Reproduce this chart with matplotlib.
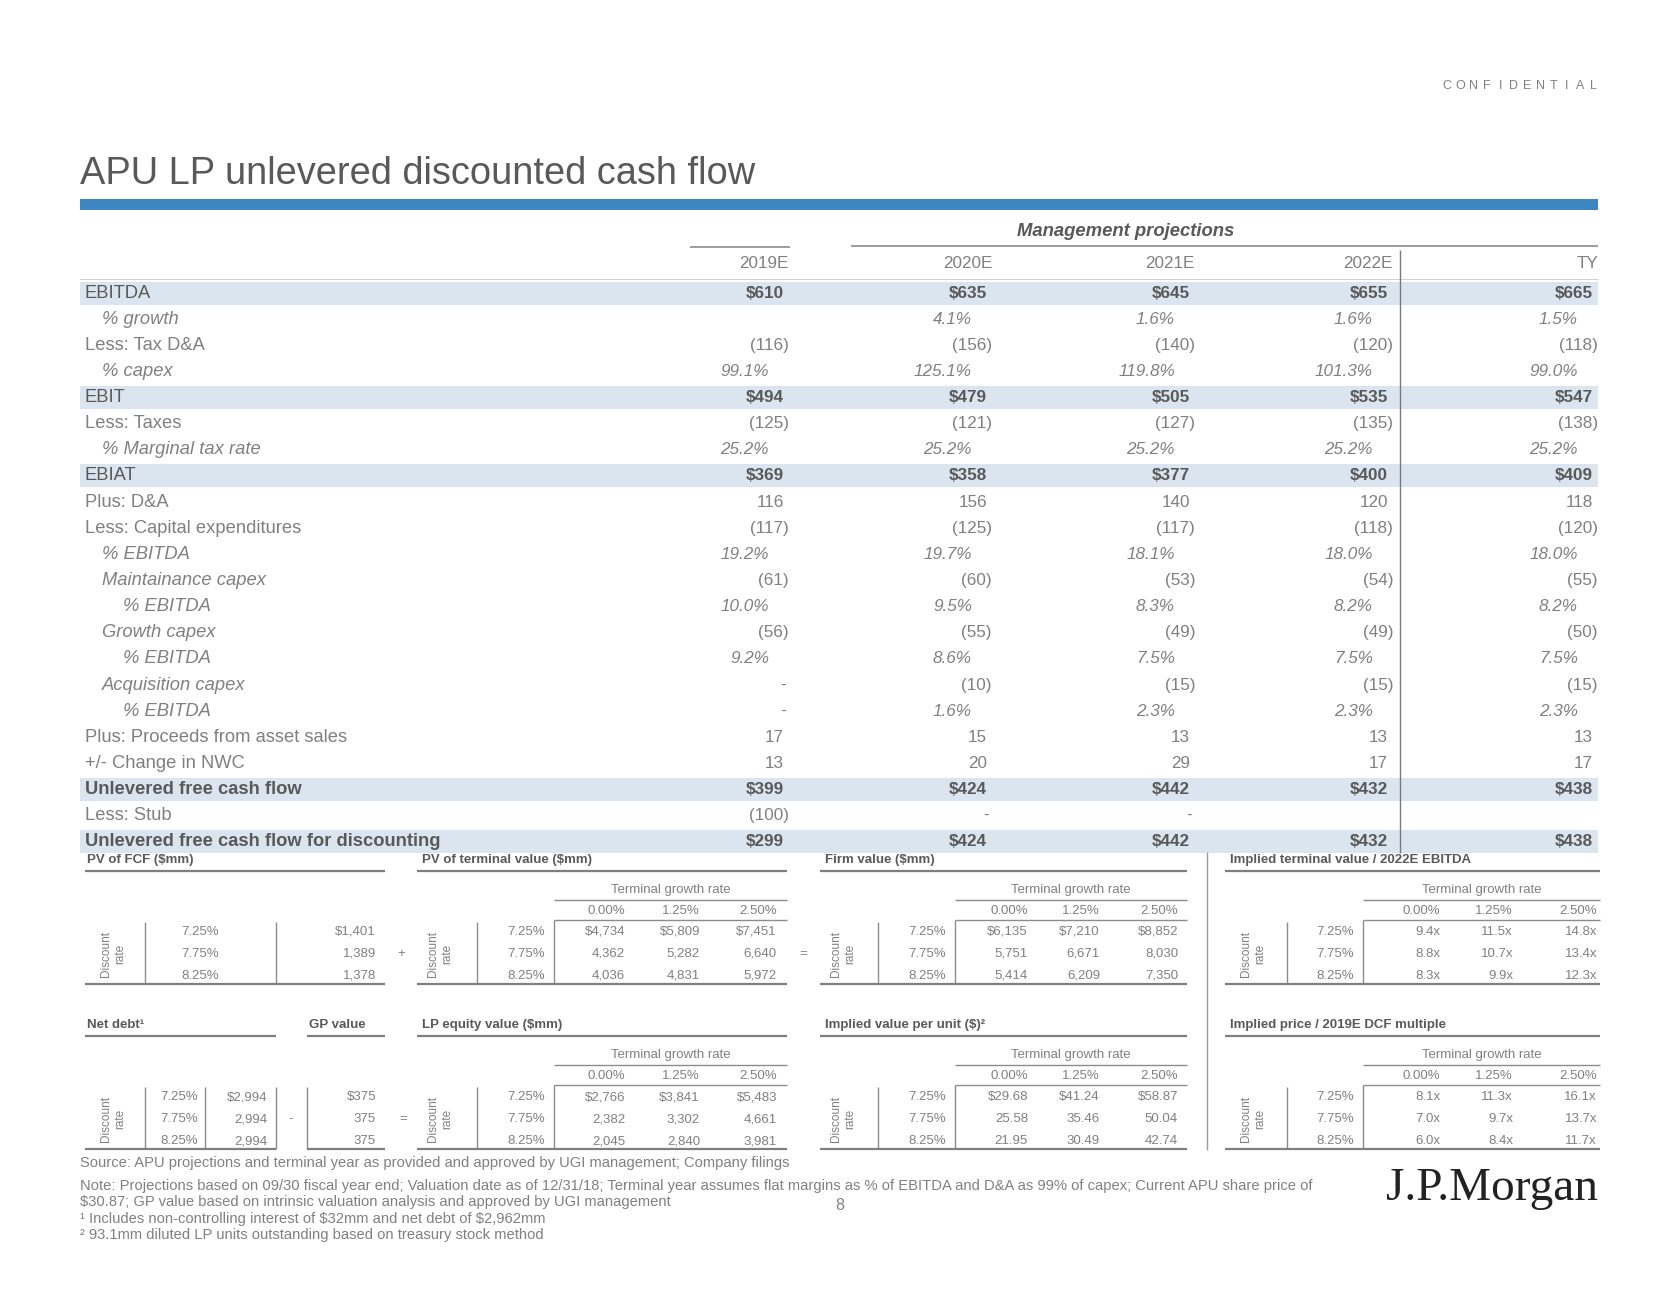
import matplotlib
matplotlib.use('Agg')
import matplotlib.pyplot as plt
from matplotlib.patches import Rectangle

plt.rcParams['font.family'] = ['Liberation Sans', 'DejaVu Sans']

# ---------------- data ----------------
years = ["2019E", "2020E", "2021E", "2022E", "TY"]
row_labels = ["EBITDA", "% growth", "Less: Tax D&A", "% capex", "EBIT", "Less: Taxes",
              "% Marginal tax rate", "EBIAT", "Plus: D&A", "Less: Capital expenditures",
              "% EBITDA", "Maintainance capex", "% EBITDA", "Growth capex", "% EBITDA",
              "Acquisition capex", "% EBITDA", "Plus: Proceeds from asset sales",
              "+/- Change in NWC", "Unlevered free cash flow", "Less: Stub",
              "Unlevered free cash flow for discounting"]
row_kind = ["usd", "pct", "num", "pct", "usd", "num", "pct", "usd", "num", "num", "pct", "num",
            "pct", "num", "pct", "num", "pct", "num", "num", "usd", "num", "usd"]
row_indent = [0, 1, 0, 1, 0, 0, 1, 0, 0, 0, 1, 1, 2, 1, 2, 1, 2, 0, 0, 0, 0, 0]
shaded_rows = [0, 4, 7, 19, 21]

v2019 = [610, None, -116, 99.1, 494, -125, 25.2, 369, 116, -117, 19.2, -61, 10.0, -56, 9.2, 0, 0, 17, 13, 399, -100, 299]
v2020 = [635, 4.1, -156, 125.1, 479, -121, 25.2, 358, 156, -125, 19.7, -60, 9.5, -55, 8.6, -10, 1.6, 15, 20, 424, 0, 424]
v2021 = [645, 1.6, -140, 119.8, 505, -127, 25.2, 377, 140, -117, 18.1, -53, 8.3, -49, 7.5, -15, 2.3, 13, 29, 442, 0, 442]
v2022 = [655, 1.6, -120, 101.3, 535, -135, 25.2, 400, 120, -118, 18.0, -54, 8.2, -49, 7.5, -15, 2.3, 13, 17, 432, None, 432]
vTY = [665, 1.5, -118, 99.0, 547, -138, 25.2, 409, 118, -120, 18.0, -55, 8.2, -50, 7.5, -15, 2.3, 13, 17, 438, None, 438]
columns = [v2019, v2020, v2021, v2022, vTY]

disc_rates = ["7.25%", "7.75%", "8.25%"]
growth_rates = ["0.00%", "1.25%", "2.50%"]
pv_fcf = [1401, 1389, 1378]
pv_tv = [[4734, 5809, 7451], [4362, 5282, 6640], [4036, 4831, 5972]]
firm_value = [[6135, 7210, 8852], [5751, 6671, 8030], [5414, 6209, 7350]]
tv_multiple = [[9.4, 11.5, 14.8], [8.8, 10.7, 13.4], [8.3, 9.9, 12.3]]
net_debt = [2994, 2994, 2994]
gp_value = [375, 375, 375]
lp_equity = [[2766, 3841, 5483], [2382, 3302, 4661], [2045, 2840, 3981]]
per_unit = [[29.68, 41.24, 58.87], [25.58, 35.46, 50.04], [21.95, 30.49, 42.74]]
price_multiple = [[8.1, 11.3, 16.1], [7.0, 9.7, 13.7], [6.0, 8.4, 11.7]]

footnotes = [
    "Source: APU projections and terminal year as provided and approved by UGI management; Company filings",
    "Note: Projections based on 09/30 fiscal year end; Valuation date as of 12/31/18; Terminal year assumes flat margins as % of EBITDA and D&A as 99% of capex; Current APU share price of",
    "$30.87; GP value based on intrinsic valuation analysis and approved by UGI management",
    "\u00b9 Includes non-controlling interest of $32mm and net debt of $2,962mm",
    "\u00b2 93.1mm diluted LP units outstanding based on treasury stock method",
]

# ---------------- style ----------------
GRAY = "#808080"
DARK = "#595959"
LINE = "#8c8c8c"
BAND = "#dbe5f0"
BLUE = "#3e86c1"

W, H = 1678, 1295
fig = plt.figure(figsize=(W / 100, H / 100), dpi=100)
ax = fig.add_axes([0, 0, 1, 1])
ax.set_xlim(0, W)
ax.set_ylim(H, 0)
ax.axis('off')


def T(x, y, s, size=11.5, color=GRAY, ha='left', va='center', weight='normal', style='normal', **kw):
    ax.text(x, y, s, fontsize=size, color=color, ha=ha, va=va, fontweight=weight,
            fontstyle=style, parse_math=False, **kw)


def hl(y, x0, x1, lw=1.0, color=LINE):
    ax.plot([x0, x1], [y, y], color=color, lw=lw, solid_capstyle='butt')


def vl(x, y0, y1, lw=1.0, color=LINE):
    ax.plot([x, x], [y0, y1], color=color, lw=lw, solid_capstyle='butt')


# ---------------- header ----------------
conf = "CONFIDENTIAL"
for i, ch in enumerate(conf):
    T(1447 + i * 13.3, 86, ch, size=9, color=GRAY, ha='center')

T(80, 184, "APU LP unlevered discounted cash flow", size=27.4, color=DARK, va='baseline')
ax.add_patch(Rectangle((80, 199), 1518, 11, color=BLUE, lw=0))

# ---------------- main table ----------------
col_right = [789, 992, 1195, 1393, 1598]
row_y0, row_dy = 293, 26.14
label_x = [85, 102, 123]
LAB_FS, VAL_FS = 13.2, 12.3

T(1126, 231, "Management projections", size=13.3, color=DARK, ha='center', weight='bold', style='italic')
hl(247, 690, 790, lw=1.2)
hl(246, 851, 1598, lw=1.2)
for cr, yr in zip(col_right, years):
    T(cr, 264, yr, size=12.3, ha='right')
hl(279, 80, 1598, lw=0.6, color="#c8c8c8")


def fmt(v, kind):
    if v is None:
        return ""
    if v == 0:
        return "-"
    if kind == "pct":
        return f"{v:.1f}%"
    s = f"{abs(v):,.0f}"
    if kind == "usd":
        s = "$" + s
    return f"({s})" if v < 0 else s


for i, (lab, kind, ind) in enumerate(zip(row_labels, row_kind, row_indent)):
    y = row_y0 + i * row_dy
    shaded = i in shaded_rows
    if shaded:
        ax.add_patch(Rectangle((80, y - 11.5), 1518, 23, color=BAND, lw=0, zorder=0))
    T(label_x[ind], y, lab, size=LAB_FS, color=DARK if shaded else GRAY,
      style='italic' if ind > 0 else 'normal', weight='bold' if i >= 19 and shaded else 'normal')
    for cr, col in zip(col_right, columns):
        v = col[i]
        s = fmt(v, kind)
        if s == "":
            continue
        if s == "-":
            x = cr - 3
        elif kind == "pct":
            x = cr - 20
        elif v < 0:
            x = cr
        else:
            x = cr - 5
        T(x, y, s, size=VAL_FS, ha='right', color=DARK if shaded else GRAY,
          style='italic' if kind == "pct" else 'normal', weight='bold' if shaded else 'normal')

vl(1400, 250, 853, lw=1.0, color="#7a7a7a")

# ---------------- sensitivity tables ----------------
SEC_A, SEC_B = 860, 1025
FS = 9.5


def sec_title(x, y, s, x0, x1):
    T(x, y, s, size=9.5, color=DARK, weight='bold')
    hl(y + 11, x0, x1, lw=1.6, color="#7f7f7f")


def rot_label(x, y):
    T(x, y, "Discount\nrate", size=8.5, ha='center', rotation=90, multialignment='center')


def row_ys(top):
    return [top + 72, top + 94, top + 116]


def grid(top, x0, x1, title, lab_x, vl_x, rate_r, box_l, col_r, vals, f):
    sec_title(x0 + 5, top, title, x0, x1)
    T((box_l + x1) / 2, top + 30, "Terminal growth rate", size=FS, ha='center')
    hl(top + 40, box_l, x1)
    for cr, g in zip(col_r, growth_rates):
        T(cr, top + 51, g, size=FS, ha='right')
    hl(top + 60, box_l, x1)
    vl(box_l, top + 60, top + 124)
    rot_label(lab_x, top + 94)
    vl(vl_x, top + 62, top + 124)
    for r, (y, rt) in enumerate(zip(row_ys(top), disc_rates)):
        T(rate_r, y, rt, size=FS, ha='right')
        for c, cr in enumerate(col_r):
            T(cr, y, f(vals[r][c], r), size=FS, ha='right')
    hl(top + 124, x0, x1, lw=1.6, color="#7f7f7f")


def f_usd(v, r):
    return ("$" if r == 0 else "") + f"{v:,.0f}"


def f_unit(v, r):
    return ("$" if r == 0 else "") + f"{v:.2f}"


def f_mult(v, r):
    return f"{v:.1f}x"


# PV of FCF
top = SEC_A
sec_title(87, top, "PV of FCF ($mm)", 85, 385)
rot_label(113, top + 94)
vl(145, top + 62, top + 124)
vl(276, top + 62, top + 124)
for r, y in enumerate(row_ys(top)):
    T(219, y, disc_rates[r], size=FS, ha='right')
    T(376, y, f_usd(pv_fcf[r], r), size=FS, ha='right')
hl(top + 124, 85, 385, lw=1.6, color="#7f7f7f")
T(401, top + 94, "+", size=FS, ha='center')

grid(SEC_A, 417, 787, "PV of terminal value ($mm)", 440, 477, 545, 554, [625, 700, 777], pv_tv, f_usd)
T(803, SEC_A + 94, "=", size=FS, ha='center')
grid(SEC_A, 820, 1187, "Firm value ($mm)", 843, 878, 946, 955, [1028, 1100, 1178], firm_value, f_usd)
grid(SEC_A, 1225, 1600, "Implied terminal value / 2022E EBITDA", 1253, 1287, 1354, 1363,
     [1440, 1513, 1597], tv_multiple, f_mult)

# Net debt / GP value
top = SEC_B
sec_title(87, top, "Net debt\u00b9", 85, 276)
sec_title(309, top, "GP value", 307, 385)
rot_label(113, top + 94)
for x in (145, 205, 276, 307):
    vl(x, top + 62, top + 124)
for r, y in enumerate(row_ys(top)):
    T(198, y, disc_rates[r], size=FS, ha='right')
    T(267, y, f_usd(net_debt[r], r), size=FS, ha='right')
    T(376, y, f_usd(gp_value[r], r), size=FS, ha='right')
hl(top + 124, 85, 276, lw=1.6, color="#7f7f7f")
hl(top + 124, 307, 385, lw=1.6, color="#7f7f7f")
T(291, top + 94, "-", size=FS, ha='center')
T(403, top + 94, "=", size=FS, ha='center')

grid(SEC_B, 417, 787, "LP equity value ($mm)", 440, 477, 545, 554, [625, 700, 777], lp_equity, f_usd)
grid(SEC_B, 820, 1187, "Implied value per unit ($)\u00b2", 843, 878, 946, 955, [1028, 1100, 1178], per_unit, f_unit)
grid(SEC_B, 1225, 1600, "Implied price / 2019E DCF multiple", 1253, 1287, 1354, 1363,
     [1440, 1513, 1597], price_multiple, f_mult)

vl(1207, 852, 1150, lw=1.0, color="#9a9a9a")

# ---------------- footnotes ----------------
for s, y in zip(footnotes, [1163, 1186, 1202, 1219, 1235]):
    T(80, y, s, size=10.6, color=GRAY)
T(840, 1205, "8", size=11.5, color=GRAY, ha='center')
ax.text(1598, 1189, "J.P.Morgan", fontsize=34, color="#222222", ha='right', va='center',
        family=['Liberation Serif', 'DejaVu Serif'])

fig.savefig("out.png", dpi=100)
